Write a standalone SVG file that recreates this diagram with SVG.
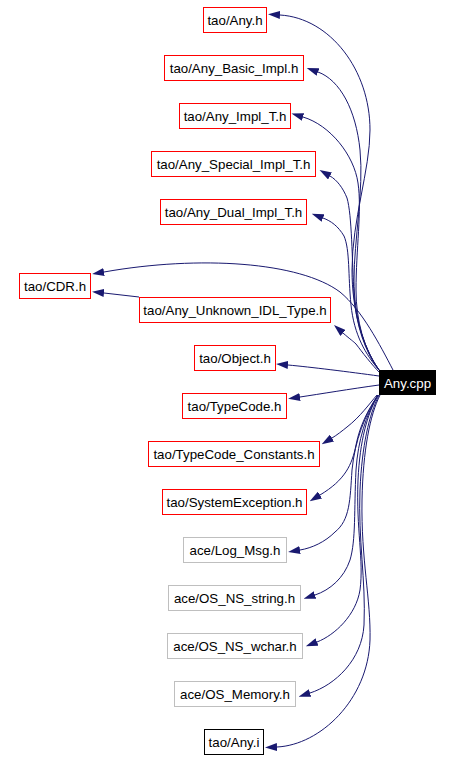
<svg xmlns="http://www.w3.org/2000/svg" width="454" height="760" viewBox="0 0 454 760">
<defs>
<marker id="ah" markerUnits="userSpaceOnUse" viewBox="0 0 12 8" markerWidth="12" markerHeight="8" refX="0" refY="4" orient="auto">
<path d="M0,0 L12,4 L0,8 z" fill="#191970"/>
</marker>
</defs>
<style>
.n rect{fill:#fff;stroke-width:1}
.r rect{stroke:#ff0000}
.g rect{stroke:#bfbfbf}
.k rect{stroke:#000}
text{font-family:"Liberation Sans",Arial,sans-serif;font-size:13.3px;text-anchor:middle;fill:#000}
.e path{fill:none;stroke:#191970;stroke-width:1;marker-end:url(#ah)}
</style>
<rect width="454" height="760" fill="#fff"/>
<g id="edges" class="e">
<path d="M379,370 C362,345 352,310 352,270 C352,220 370,170 370,130 C370,70 330,18 280,15"/>
<path d="M379,370 C363,348 354,315 354,280 C354,240 364,190 360,150 C356,110 340,80 318,72"/>
<path d="M379,370 C364,350 356,320 356,290 C356,250 362,210 358,183 C354,155 330,125 303,117"/>
<path d="M379,370 C365,352 356,325 354,295 C352,260 352,215 347,198 C343,188 337,180 330,176"/>
<path d="M379,370 C366,355 354,335 351,305 C348,275 350,250 344,236 C338,226 331,221 323,218"/>
<path d="M393,370 C380,345 362,310 340,292 C300,262 200,255 104,272"/>
<path d="M139,297 L104,293"/>
<path d="M380,373 C372,365 362,352 356,344 C353,341 351,340 343,333"/>
<path d="M379,376 C350,372 310,367 288,365"/>
<path d="M379,385 C350,389 320,394 300,397"/>
<path d="M377,395 C370,403 360,417 347,427 C342,431 337,435 332,438"/>
<path d="M378,395 C368,410 360,425 356,445 C352,465 345,480 320,495"/>
<path d="M378,395 C365,415 355,440 352,470 C350,500 350,520 335,532 C325,542 312,548 300,550"/>
<path d="M378,395 C366,415 358,440 356,470 C354,510 356,540 350,560 C344,578 330,590 315,595"/>
<path d="M378,395 C367,415 360,440 358,480 C356,530 364,560 360,590 C356,615 335,635 317,642"/>
<path d="M379,395 C369,415 362,445 360,490 C358,540 366,580 364,625 C362,660 335,685 310,693"/>
<path d="M380,395 C370,415 363,450 362,500 C361,560 371,600 370,640 C368,700 320,745 277,747"/>
</g>
<g id="n_any_h" class="n r"><rect x="203.5" y="7.5" width="63" height="25"/><text x="235" y="25">tao/Any.h</text></g>
<g id="n_basic" class="n r"><rect x="164.5" y="55.5" width="139" height="25"/><text x="234" y="73">tao/Any_Basic_Impl.h</text></g>
<g id="n_implt" class="n r"><rect x="179.5" y="103.5" width="111" height="25"/><text x="235" y="121">tao/Any_Impl_T.h</text></g>
<g id="n_special" class="n r"><rect x="151.5" y="151.5" width="164" height="25"/><text x="233.5" y="169">tao/Any_Special_Impl_T.h</text></g>
<g id="n_dual" class="n r"><rect x="160.5" y="199.5" width="146" height="25"/><text x="233.5" y="217">tao/Any_Dual_Impl_T.h</text></g>
<g id="n_cdr" class="n r"><rect x="19.5" y="273.5" width="71" height="25"/><text x="55" y="291">tao/CDR.h</text></g>
<g id="n_unknown" class="n r"><rect x="139.5" y="297.5" width="191" height="25"/><text x="235" y="315">tao/Any_Unknown_IDL_Type.h</text></g>
<g id="n_object" class="n r"><rect x="194.5" y="345.5" width="81" height="25"/><text x="235" y="363">tao/Object.h</text></g>
<g id="n_anycpp"><rect x="379" y="370" width="57" height="25" fill="#000"/><text x="407.5" y="388" fill="#fff" style="fill:#fff">Any.cpp</text></g>
<g id="n_typecode" class="n r"><rect x="182.5" y="393.5" width="104" height="25"/><text x="234.5" y="411">tao/TypeCode.h</text></g>
<g id="n_tcconst" class="n r"><rect x="148.5" y="441.5" width="171" height="25"/><text x="234" y="459">tao/TypeCode_Constants.h</text></g>
<g id="n_sysexc" class="n r"><rect x="162.5" y="489.5" width="144" height="25"/><text x="234.5" y="507">tao/SystemException.h</text></g>
<g id="n_logmsg" class="n g"><rect x="183.5" y="537.5" width="103" height="25"/><text x="235" y="555">ace/Log_Msg.h</text></g>
<g id="n_string" class="n g"><rect x="168.5" y="585.5" width="132" height="25"/><text x="234.5" y="603">ace/OS_NS_string.h</text></g>
<g id="n_wchar" class="n g"><rect x="167.5" y="633.5" width="135" height="25"/><text x="235" y="651">ace/OS_NS_wchar.h</text></g>
<g id="n_memory" class="n g"><rect x="174.5" y="681.5" width="121" height="25"/><text x="235" y="699">ace/OS_Memory.h</text></g>
<g id="n_any_i" class="n k"><rect x="204.5" y="729.5" width="59" height="25"/><text x="234" y="747">tao/Any.i</text></g>
</svg>
